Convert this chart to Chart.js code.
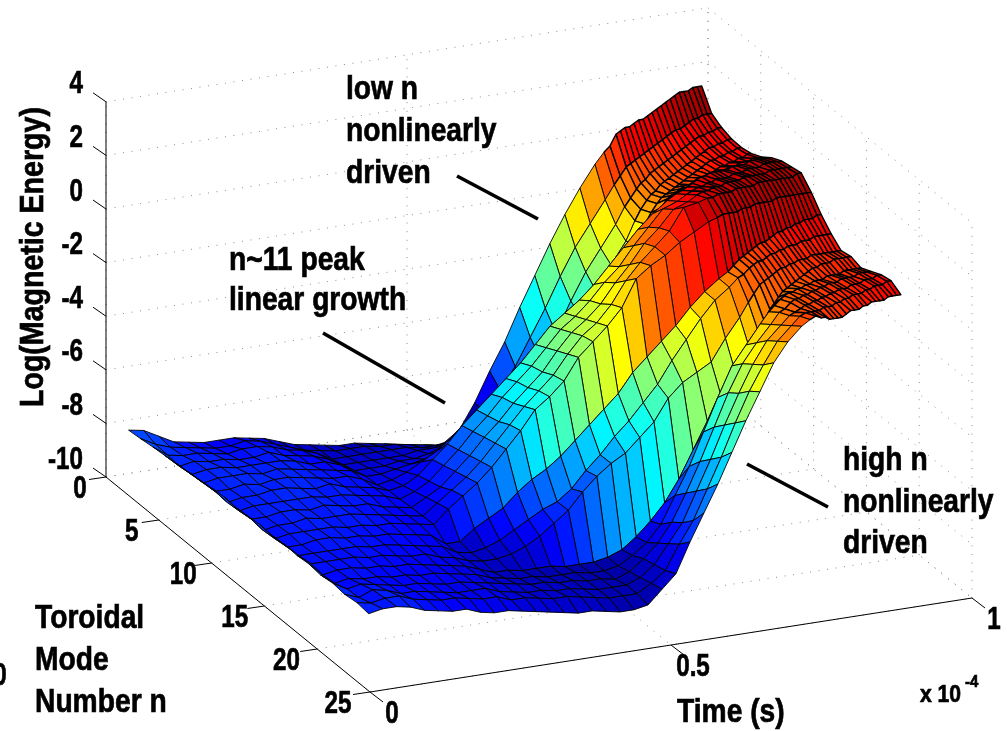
<!DOCTYPE html>
<html>
<head>
<meta charset="utf-8">
<title>Log(Magnetic Energy)</title>
<style>
  html, body { margin: 0; padding: 0; background: #ffffff; overflow: hidden; }
  canvas { display: block; }
</style>
<script src="https://cdn.jsdelivr.net/npm/chart.js@4/dist/chart.umd.min.js"></script>
</head>
<body>
<canvas id="surface" width="1007" height="731"></canvas>
<script>
// Axis ticks
const zTicks = [-10, -8, -6, -4, -2, 0, 2, 4];
const nTicks = [0, 5, 10, 15, 20, 25];
const tTicks = [0, 0.5, 1];

// Toroidal mode numbers (one row of the mesh each)
const modeNumbers = [1, 2, 3, 4, 5, 6, 7, 8, 9, 10, 11, 12, 13, 14, 15, 16, 17, 18, 19, 20, 21];

// Time samples along a row, x 10^-4 s
const timeSamples = [
  0.02, 0.045, 0.07, 0.095, 0.12, 0.145, 0.17, 0.195, 0.22, 0.245, 0.27, 0.295,
  0.32, 0.345, 0.37, 0.395, 0.42, 0.445, 0.47, 0.495, 0.52, 0.545, 0.57, 0.595,
  0.62, 0.645, 0.67, 0.695, 0.72, 0.745, 0.77, 0.795, 0.81, 0.82,
  0.83, 0.8375, 0.845, 0.8525, 0.86, 0.8675, 0.875, 0.8825, 0.89, 0.8975,
  0.905, 0.9125, 0.92, 0.9275, 0.935, 0.9425, 0.95, 0.9575, 0.965, 0.9725
];

// First and last time of each row
const rowTimeStart = [0.020, 0.022, 0.025, 0.027, 0.030, 0.032, 0.034, 0.037, 0.039, 0.042, 0.044,
  0.046, 0.049, 0.051, 0.054, 0.056, 0.058, 0.061, 0.063, 0.066, 0.068];
const rowTimeEnd = [0.972, 0.971, 0.970, 0.969, 0.968, 0.967, 0.966, 0.965, 0.964, 0.963, 0.962,
  0.961, 0.960, 0.959, 0.958, 0.957, 0.956, 0.955, 0.954, 0.953, 0.952];

// Log(energy) x 10 per mode, one value per time sample
const mode01 = [-80,-81,-84,-87,-88,-89,-89,-89,-90,-91,-93,-95,-96,-97,-98,-98,-99,-100,-102,-103,-104,-103,-99,-90,-79,-69,-57,-46,-35,-25,-16,-8,-4,-2,2,3,4,4,5,6,6,7,8,9,10,11,12,13,14,14,14,15,15,15];
const mode02 = [-80,-83,-85,-86,-87,-88,-88,-87,-88,-90,-92,-94,-95,-96,-96,-96,-97,-97,-98,-99,-100,-100,-96,-90,-83,-75,-65,-55,-44,-34,-26,-18,-13,-10,-7,-6,-5,-4,-3,-2,-1,0,1,2,3,4,4,5,6,7,7,8,8,8];
const mode03 = [-80,-84,-85,-85,-86,-87,-86,-86,-87,-89,-90,-92,-95,-95,-95,-95,-95,-95,-96,-96,-96,-95,-92,-89,-84,-77,-70,-61,-50,-40,-32,-24,-18,-15,-12,-10,-9,-7,-6,-5,-4,-3,-2,-1,0,1,2,3,4,4,5,5,6,6];
const mode04 = [-80,-85,-84,-85,-85,-86,-86,-85,-87,-88,-89,-91,-94,-94,-94,-94,-94,-93,-93,-92,-91,-90,-89,-87,-84,-78,-72,-64,-53,-44,-35,-27,-20,-16,-13,-11,-10,-8,-7,-6,-5,-4,-3,-2,-1,0,1,2,3,3,4,4,5,5];
const mode05 = [-80,-85,-84,-84,-85,-85,-85,-85,-86,-88,-88,-90,-93,-93,-93,-92,-92,-91,-89,-87,-85,-84,-83,-81,-78,-74,-68,-61,-51,-42,-33,-25,-18,-14,-11,-9,-8,-7,-6,-5,-4,-3,-2,-1,0,1,2,2,3,3,4,4,5,5];
const mode06 = [-80,-85,-84,-84,-84,-85,-84,-85,-86,-87,-88,-89,-92,-92,-91,-90,-89,-87,-84,-81,-78,-76,-73,-70,-68,-62,-56,-49,-41,-33,-25,-17,-12,-9,-6,-5,-4,-3,-2,-2,-1,0,0,1,1,2,3,3,4,4,5,5,6,6];
const mode07 = [-80,-85,-85,-84,-85,-84,-84,-85,-86,-87,-87,-89,-92,-91,-89,-86,-83,-79,-74,-70,-66,-64,-60,-55,-50,-45,-40,-34,-27,-20,-13,-7,-3,-1,-1,0,1,1,2,2,3,3,4,4,5,5,6,6,7,7,7,8,8,8];
const mode08 = [-80,-86,-85,-85,-84,-84,-85,-86,-85,-87,-88,-89,-91,-90,-87,-82,-77,-71,-66,-61,-56,-51,-45,-39,-35,-31,-26,-20,-14,-8,-3,1,3,4,5,6,7,8,8,9,9,9,9,9,10,10,10,10,11,11,11,11,11,11];
const mode09 = [-80,-86,-85,-85,-85,-85,-85,-86,-86,-87,-88,-89,-91,-89,-86,-81,-76,-70,-65,-59,-54,-49,-43,-37,-33,-28,-22,-17,-10,-4,2,4,6,7,8,8,9,9,10,10,10,10,11,11,11,12,12,12,12,13,13,13,13,13];
const mode10 = [-81,-86,-86,-85,-85,-86,-85,-86,-87,-87,-89,-90,-91,-88,-85,-80,-75,-69,-64,-58,-53,-48,-41,-35,-31,-26,-19,-13,-6,-1,5,7,9,10,10,11,11,11,12,12,12,12,13,13,13,13,13,13,14,14,14,14,14,14];
const mode11 = [-81,-87,-86,-86,-85,-86,-86,-86,-87,-88,-89,-90,-91,-87,-83,-79,-74,-68,-62,-56,-51,-46,-39,-33,-29,-23,-15,-9,-4,1,9,10,11,11,12,12,12,12,13,13,13,13,13,14,14,14,14,14,14,14,14,14,15,15];
const mode12 = [-81,-87,-86,-86,-86,-86,-87,-87,-88,-88,-89,-90,-91,-86,-82,-78,-73,-67,-61,-54,-50,-45,-37,-32,-27,-21,-11,-7,-4,0,3,6,7,8,8,8,8,9,9,9,10,10,10,10,10,11,11,11,11,11,11,11,11,11];
const mode13 = [-82,-87,-87,-86,-86,-87,-87,-88,-88,-89,-90,-91,-95,-95,-91,-88,-85,-80,-76,-73,-69,-64,-59,-54,-49,-42,-37,-32,-27,-21,-16,-12,-10,-8,-6,-5,-4,-3,-2,-1,-1,0,1,2,2,3,3,4,4,5,5,5,6,6];
const mode14 = [-82,-87,-87,-87,-87,-87,-88,-88,-89,-90,-91,-92,-95,-96,-95,-93,-90,-87,-84,-82,-78,-72,-67,-61,-56,-50,-44,-36,-29,-22,-16,-12,-9,-8,-6,-5,-4,-4,-3,-2,-2,-1,-1,0,0,0,1,1,1,2,2,2,2,2];
const mode15 = [-83,-87,-87,-87,-87,-88,-88,-89,-90,-90,-92,-93,-95,-96,-96,-95,-93,-90,-86,-82,-76,-71,-67,-64,-59,-54,-46,-41,-38,-35,-27,-20,-15,-12,-9,-8,-7,-6,-5,-4,-4,-3,-3,-2,-2,-2,-1,-1,-1,-1,-1,-1,-1,-1];
const mode16 = [-83,-88,-87,-87,-88,-88,-89,-89,-90,-91,-92,-93,-95,-97,-97,-98,-98,-98,-99,-99,-99,-98,-96,-92,-87,-81,-73,-63,-53,-45,-37,-29,-23,-19,-15,-13,-11,-9,-8,-7,-6,-5,-4,-3,-2,-2,-1,-1,-1,0,0,0,0,0];
const mode17 = [-84,-88,-87,-88,-88,-89,-89,-90,-90,-91,-92,-93,-95,-96,-97,-97,-98,-98,-98,-99,-99,-98,-95,-91,-85,-75,-65,-53,-41,-30,-23,-16,-12,-10,-8,-7,-6,-6,-5,-5,-4,-4,-3,-3,-3,-2,-2,-2,-2,-1,-1,-1,-1,-1];
const mode18 = [-84,-87,-86,-87,-88,-89,-89,-90,-91,-91,-92,-93,-94,-95,-96,-96,-97,-97,-98,-98,-99,-97,-93,-88,-81,-71,-60,-48,-36,-26,-19,-13,-9,-8,-6,-5,-5,-4,-4,-3,-3,-2,-2,-1,-1,-1,0,0,0,0,1,1,1,1];
const mode19 = [-85,-87,-85,-86,-88,-88,-89,-90,-91,-91,-91,-93,-94,-95,-95,-96,-96,-97,-98,-98,-98,-96,-92,-85,-78,-67,-56,-44,-33,-23,-15,-10,-7,-6,-5,-4,-4,-3,-3,-2,-2,-1,-1,0,0,0,1,1,1,2,2,2,3,3];
const mode20 = [-85,-86,-85,-85,-87,-88,-89,-89,-90,-91,-91,-93,-93,-94,-95,-95,-96,-97,-98,-98,-98,-95,-91,-82,-74,-63,-52,-40,-29,-20,-12,-7,-4,-3,-3,-3,-3,-2,-2,-2,-1,-1,0,0,1,1,1,2,2,3,3,3,4,4];
const mode21 = [-86,-85,-85,-86,-88,-89,-90,-90,-92,-93,-93,-94,-95,-96,-97,-98,-98,-99,-100,-100,-99,-94,-89,-78,-68,-58,-47,-36,-26,-16,-9,-4,-2,-1,-2,-2,-3,-3,-3,-3,-2,-1,-1,-1,0,0,1,1,1,1,2,2,2,2];
const logEnergy = [mode01, mode02, mode03, mode04, mode05, mode06, mode07, mode08, mode09, mode10, mode11,
  mode12, mode13, mode14, mode15, mode16, mode17, mode18, mode19, mode20, mode21];

// View of the 3-D box on the page: where (n=0, t=0, z=-10) sits and what one unit of each axis moves
const view = { x0: 106, y0: 477, nx: 10.56, ny: 8.6, tx: 602, ty: -94, zy: -26.8 };
const colorLimits = [-10.4, 1.9];

function project(n, t, z) {
  return {
    x: view.x0 + view.nx * n + view.tx * t,
    y: view.y0 + view.ny * n + view.ty * t + view.zy * (z + 10)
  };
}

// MATLAB jet colormap
function jet(c) {
  c = Math.max(0, Math.min(1, c));
  const band = function (v) { return Math.round(255 * Math.max(0, Math.min(1, v))); };
  return 'rgb(' + band(1.5 - Math.abs(4 * c - 3)) + ',' + band(1.5 - Math.abs(4 * c - 2)) + ',' + band(1.5 - Math.abs(4 * c - 1)) + ')';
}

function rowTime(i, j) {
  const span = (rowTimeEnd[i] - rowTimeStart[i]) / (timeSamples[timeSamples.length - 1] - timeSamples[0]);
  return rowTimeStart[i] + (timeSamples[j] - timeSamples[0]) * span;
}

function meshPoint(i, j) {
  return project(modeNumbers[i], rowTime(i, j), logEnergy[i][j] / 10);
}

function lineSet(points, color, width, dash) {
  return {
    data: points,
    showLine: true,
    borderColor: color,
    borderWidth: width,
    borderDash: dash || [],
    pointRadius: 0,
    fill: false,
    clip: false,
    tension: 0
  };
}

const datasets = [];

/* ── Axes and ticks (drawn last, on top) ── */
const black = '#000000';
datasets.push(lineSet([project(0, 0, -10), project(0, 0, 4)], black, 1));
datasets.push(lineSet([project(0, 0, -10), project(25, 0, -10)], black, 1));
datasets.push(lineSet([project(25, 0, -10), project(25, 1, -10)], black, 1));
zTicks.forEach(function (z) {
  const p = project(0, 0, z);
  datasets.push(lineSet([p, { x: p.x - 13, y: p.y - 9 }], black, 1));
});
nTicks.forEach(function (n) {
  const p = project(n, 0, -10);
  datasets.push(lineSet([p, { x: p.x - 17, y: p.y + 2.5 }], black, 1));
});
tTicks.forEach(function (t) {
  const p = project(25, t, -10);
  datasets.push(lineSet([p, { x: p.x + 13, y: p.y + 10 }], black, 1));
});

/* ── Surface cells, nearest first: Chart.js paints the first dataset last ── */
const denseFrom = 32;
for (let i = modeNumbers.length - 2; i >= 0; i--) {
  for (let j = 0; j < timeSamples.length - 1; j++) {
    const a = meshPoint(i, j);
    const cell = lineSet([a, meshPoint(i, j + 1), meshPoint(i + 1, j + 1), meshPoint(i + 1, j), a], '#000000', j >= denseFrom ? 1.4 : 0.9);
    cell.fill = 'shape';
    cell.backgroundColor = jet((logEnergy[i][j] / 10 - colorLimits[0]) / (colorLimits[1] - colorLimits[0]));
    cell.borderJoinStyle = 'round';
    datasets.push(cell);
  }
}

/* ── Dotted grid behind the surface ── */
const gridColor = '#8c8c8c';
const gridDash = [1, 7.6];
zTicks.forEach(function (z) {
  datasets.push(lineSet([project(0, 0, z), project(0, 1, z)], gridColor, 1, gridDash));
  datasets.push(lineSet([project(0, 1, z), project(25, 1, z)], gridColor, 1, gridDash));
});
tTicks.forEach(function (t) {
  datasets.push(lineSet([project(0, t, -10), project(0, t, 4)], gridColor, 1, gridDash));
  datasets.push(lineSet([project(0, t, -10), project(25, t, -10)], gridColor, 1, gridDash));
});
nTicks.forEach(function (n) {
  datasets.push(lineSet([project(n, 0, -10), project(n, 1, -10)], gridColor, 1, gridDash));
  datasets.push(lineSet([project(n, 1, -10), project(n, 1, 4)], gridColor, 1, gridDash));
});

/* ── Labels: [text, x, baseline y] ── */
const notes = [
  ['low n', 346, 99], ['nonlinearly', 346, 141], ['driven', 346, 183],
  ['n~11 peak', 229, 270], ['linear growth', 229, 310],
  ['high n', 843, 470], ['nonlinearly', 843, 512], ['driven', 843, 553],
  ['Toroidal', 35, 628], ['Mode', 35, 670], ['Number n', 35, 712],
  ['Time (s)', 677, 722]
];
// Pointer strokes from the notes towards the surface
const pointers = [
  [457, 176, 538, 219],
  [323, 333, 445, 403],
  [747, 464, 828, 507]
];

function put(ctx, text, x, y, size, squeeze, align) {
  ctx.save();
  ctx.translate(x, y);
  ctx.scale(squeeze, 1);
  ctx.font = 'bold ' + size + 'px "Liberation Sans", Arial, sans-serif';
  ctx.textAlign = align || 'left';
  ctx.textBaseline = 'alphabetic';
  ctx.fillStyle = '#000000';
  ctx.strokeStyle = '#000000';
  ctx.lineWidth = 0.7;
  ctx.fillText(text, 0, 0);
  ctx.strokeText(text, 0, 0);
  ctx.restore();
}

const labelPlugin = {
  id: 'surfaceLabels',
  afterDraw: function (chart) {
    const ctx = chart.ctx;

    ctx.save();
    ctx.strokeStyle = '#000000';
    ctx.lineWidth = 3.6;
    pointers.forEach(function (p) {
      ctx.beginPath();
      ctx.moveTo(p[0], p[1]);
      ctx.lineTo(p[2], p[3]);
      ctx.stroke();
    });
    ctx.restore();

    notes.forEach(function (note) {
      put(ctx, note[0], note[1], note[2], 34, 0.83);
    });

    zTicks.forEach(function (z) {
      put(ctx, String(z), 83, project(0, 0, z).y - 8.5, 31, 0.78, 'right');
    });
    nTicks.forEach(function (n) {
      const p = project(n, 0, -10);
      put(ctx, String(n), p.x - 26 - 0.24 * n, p.y + 20.5, 31, 0.78, 'center');
    });
    tTicks.forEach(function (t) {
      const p = project(25, t, -10);
      put(ctx, String(t), p.x + 22, p.y + 31, 31, 0.78, 'center');
    });
    // tick label of a neighbouring panel, cut by the page edge
    put(ctx, '0', 0, 685, 31, 0.78, 'center');

    put(ctx, 'x 10', 920, 702, 24, 0.88);
    put(ctx, '-4', 965, 687, 17, 0.88);

    ctx.save();
    ctx.translate(43, 407);
    ctx.rotate(-Math.PI / 2);
    put(ctx, 'Log(Magnetic Energy)', 0, 0, 34, 0.84);
    ctx.restore();
  }
};

new Chart(document.getElementById('surface'), {
  type: 'scatter',
  data: { datasets: datasets },
  options: {
    responsive: false,
    animation: false,
    events: [],
    layout: { padding: 0 },
    plugins: { legend: { display: false }, tooltip: { enabled: false } },
    scales: {
      x: { type: 'linear', min: 0, max: 1007, display: false },
      y: { type: 'linear', min: 0, max: 731, reverse: true, display: false }
    }
  },
  plugins: [labelPlugin]
});
</script>
</body>
</html>
